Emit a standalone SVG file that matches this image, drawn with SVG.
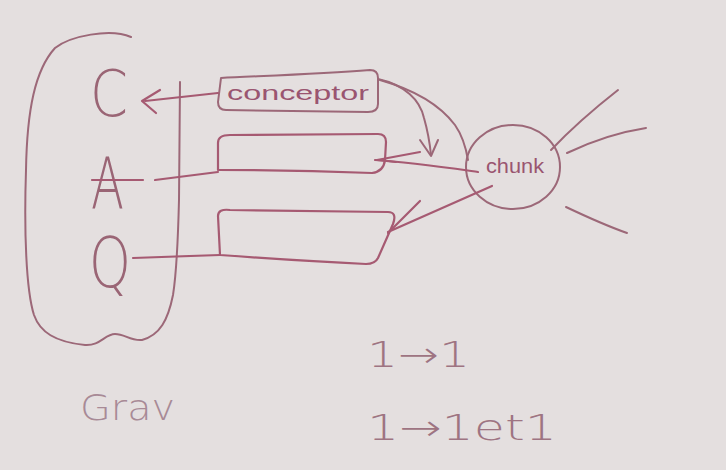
<svg xmlns="http://www.w3.org/2000/svg" width="726" height="470" viewBox="0 0 726 470">
<defs>
<style>
.ink{fill:none;stroke:#a65a72;stroke-width:2.2;stroke-linecap:round;stroke-linejoin:round}
.pale{fill:none;stroke:#9c6878;stroke-width:2;stroke-linecap:round;stroke-linejoin:round}
.big{font-family:"DejaVu Sans","Liberation Sans",sans-serif;font-weight:200;fill:#9a6575}
.lbl{font-family:"Liberation Sans","DejaVu Sans",sans-serif;fill:#9a5570}
.note{font-family:"DejaVu Sans","Liberation Sans",sans-serif;font-weight:200;font-size:36px;fill:#9e7482}
</style>
</defs>
<rect width="726" height="470" fill="#e4dfdf"/>

<g id="group-bracket">
<path class="pale" d="M131,37 C110,28 70,36 55,48 C35,70 27,110 26,170 C24,230 26,290 34,315 C40,332 55,342 85,345 C100,346 105,334 115,334 C125,334 130,341 142,340 C160,335 168,320 173,295 C177,270 178,240 179,200 L180,82"/>
</g>

<g id="node-C"><text class="big" x="90" y="116" font-size="64" textLength="38" lengthAdjust="spacingAndGlyphs">C</text></g>
<g id="node-A"><text class="big" x="91" y="208" font-size="72" textLength="33" lengthAdjust="spacingAndGlyphs">A</text></g>
<g id="node-Q"><text class="big" x="89" y="287" font-size="70" textLength="42" lengthAdjust="spacingAndGlyphs">Q</text></g>

<g id="node-conceptor">
<path class="pale" d="M221,78 C260,76 320,74 370,70 C376,70 378,74 378,78 L378,104 C378,110 374,112 368,112 L226,110 C220,110 218,107 218,102 Z"/>
<text class="lbl" x="298" y="100" font-size="21" text-anchor="middle" textLength="142" lengthAdjust="spacingAndGlyphs">conceptor</text>
</g>

<g id="node-box2">
<path class="ink" d="M218,170 L218,143 C218,137 222,135 230,135 L378,134 C384,134 386,137 386,142 L385,160 C384,168 380,172 372,173 C320,171 260,170 218,170 Z"/>
</g>

<g id="node-box3">
<path class="ink" d="M220,255 L218,216 C218,211 222,209 230,210 L388,212 C394,212 396,216 393,224 L378,258 C376,262 372,264 366,264 C320,262 260,258 220,255 Z"/>
</g>

<g id="node-chunk">
<ellipse class="pale" cx="513" cy="167" rx="47" ry="42"/>
<text class="lbl" x="515" y="173" font-size="20" text-anchor="middle" textLength="58" lengthAdjust="spacingAndGlyphs">chunk</text>
</g>

<g id="connectors">
<path class="ink" d="M218,93 L145,101"/>
<path class="ink" d="M160,90 L142,101 L156,113"/>
<path class="ink" d="M92,180 L143,180 M155,180 L218,172"/>
<path class="ink" d="M133,258 L220,255"/>
<path class="pale" d="M378,79 C405,85 420,100 424,118 C428,132 430,145 431,155"/>
<path class="pale" d="M420,140 L431,156 L438,140"/>
<path class="pale" d="M380,80 C415,90 440,105 455,125 C462,135 466,148 468,160"/>
<path class="ink" d="M478,172 C450,168 410,162 375,160"/>
<path class="ink" d="M420,152 L377,160 L396,162"/>
<path class="ink" d="M492,186 C460,200 420,218 388,232"/>
<path class="ink" d="M420,201 L388,233"/>
<path class="pale" d="M551,150 C570,130 595,108 618,90"/>
<path class="pale" d="M567,153 C590,142 620,132 646,128"/>
<path class="pale" d="M566,207 C585,216 607,226 627,233"/>
</g>

<g id="notes">
<text class="note" x="367" y="367" textLength="103" lengthAdjust="spacingAndGlyphs">1→1</text>
<text class="note" x="367" y="440" textLength="190" lengthAdjust="spacingAndGlyphs">1→1et1</text>
<text class="note" x="80" y="420" style="fill:#a88a96" textLength="95" lengthAdjust="spacingAndGlyphs">Grav</text>
</g>
</svg>
